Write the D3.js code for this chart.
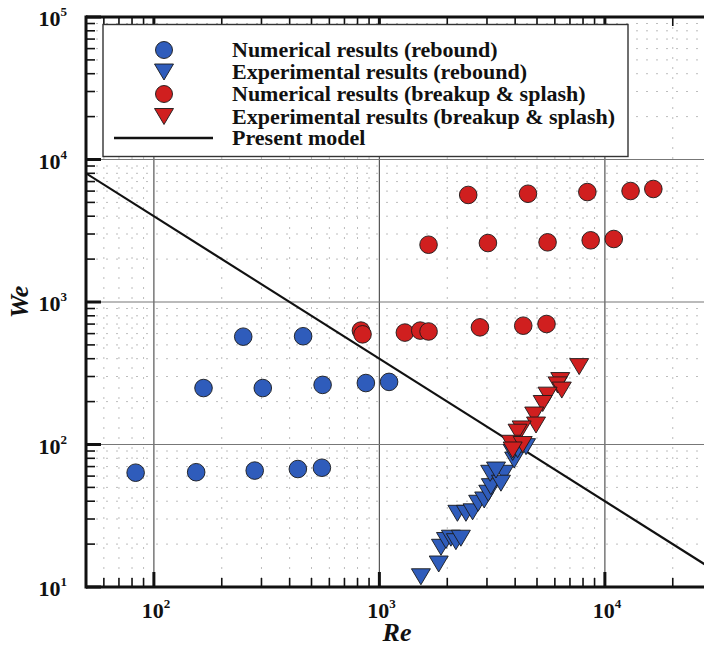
<!DOCTYPE html>
<html>
<head>
<meta charset="utf-8">
<script src="https://cdn.jsdelivr.net/npm/d3@7"></script>
<style>
  html, body { margin: 0; padding: 0; background: #fff; }
  svg { display: block; }
  text { font-family: "Liberation Serif", "Times New Roman", serif; font-weight: bold; fill: #111; }
</style>
</head>
<body>
<svg id="chart" width="704" height="647"></svg>
<script>
// Numerical results (rebound)
const numReboundRe = [83, 154, 280, 435, 556, 166, 304, 560, 871, 1104, 249, 459];
const numReboundWe = [63.4, 63.9, 65.6, 67.3, 68.7, 249, 249, 262, 270, 275, 571, 575];

// Experimental results (rebound)
const expReboundRe = [1528, 1833, 1876, 1974, 2076, 2184, 2298, 2218, 2420, 2590, 2742, 2916,
                      3040, 3121, 3100, 3575, 3460, 3290, 3960, 4470, 3900, 4100];
const expReboundWe = [11.8, 14.5, 19.0, 21.2, 22.0, 20.8, 22.0, 32.9, 32.9, 33.7, 38.7, 40.8,
                      45.5, 50.6, 62.8, 62.8, 53.5, 66.2, 77.8, 96.6, 88, 92];

// Numerical results (breakup & splash)
const numSplashRe = [2477, 4560, 8360, 13000, 16400,
                     1652, 3029, 5570, 8650, 10950,
                     828, 842, 1297, 1518, 1652, 2792, 4345, 5510];
const numSplashWe = [5640, 5750, 5910, 6010, 6210,
                     2523, 2593, 2623, 2710, 2768,
                     630, 593, 610, 630, 621, 664, 682, 701];

// Experimental results (breakup & splash)
const expSplashRe = [7690, 6340, 6170, 6440, 5570, 5300, 4860, 4950, 4275, 4100, 3830, 4320, 3900];
const expSplashWe = [352, 281, 262, 241, 222, 194, 161, 137, 128.6, 122, 102, 100, 91.5];

// Present model: We = 4e5 / Re
const modelRe = [50, 30000];
const modelWe = [8000, 13.33];

const xDecades = [100, 1000, 10000];
const yDecades = [10, 100, 1000, 10000, 100000];
const legendLabels = [
  "Numerical results (rebound)",
  "Experimental results (rebound)",
  "Numerical results (breakup & splash)",
  "Experimental results (breakup & splash)",
  "Present model"
];

const BLUE = "#2f5cbb", RED = "#d01f1f";

const svg = d3.select("#chart");
const pL = 86, pB = 587, pT = 17;
const x = d3.scaleLog().domain([50, 30000]).range([pL, pL + 225.5 * Math.log10(600)]);
const y = d3.scaleLog().domain([10, 100000]).range([pB, pT]);
const pR = x.range()[1];

svg.append("defs").append("clipPath").attr("id", "plotClip")
  .append("rect").attr("x", pL).attr("y", pT).attr("width", pR - pL).attr("height", pB - pT);

// minor values (2..9 within each decade) inside the domain
function minors(lo, hi) {
  const out = [];
  for (let p = Math.floor(Math.log10(lo)); p <= Math.ceil(Math.log10(hi)); p++) {
    for (let m = 2; m <= 9; m++) {
      const v = m * Math.pow(10, p);
      if (v > lo && v < hi) out.push(v);
    }
  }
  return out;
}
const xMinor = minors(50, 30000);
const yMinor = minors(10, 100000);

const grid = svg.append("g").attr("clip-path", "url(#plotClip)");
// minor dotted grid
grid.selectAll(".gxm").data(xMinor).join("line")
  .attr("x1", d => x(d)).attr("x2", d => x(d)).attr("y1", pT).attr("y2", pB)
  .attr("stroke", "#bdbdbd").attr("stroke-width", 1).attr("stroke-dasharray", "2,8");
grid.selectAll(".gym").data(yMinor).join("line")
  .attr("y1", d => y(d)).attr("y2", d => y(d)).attr("x1", pL).attr("x2", pR)
  .attr("stroke", "#bdbdbd").attr("stroke-width", 1).attr("stroke-dasharray", "2,8");
// major grid
grid.selectAll(".gx").data(xDecades).join("line")
  .attr("x1", d => x(d)).attr("x2", d => x(d)).attr("y1", pT).attr("y2", pB)
  .attr("stroke", "#555").attr("stroke-width", 1.2);
grid.selectAll(".gy").data(yDecades.slice(1, -1)).join("line")
  .attr("y1", d => y(d)).attr("y2", d => y(d)).attr("x1", pL).attr("x2", pR)
  .attr("stroke", "#777").attr("stroke-width", 1.2);

// axes with inward ticks
function tickLines(g, vals, len, w, orient) {
  g.selectAll(null).data(vals).join("line")
    .attr("x1", d => orient === "left" ? pL : x(d))
    .attr("x2", d => orient === "left" ? pL + len : x(d))
    .attr("y1", d => orient === "left" ? y(d) : (orient === "bottom" ? pB : pT))
    .attr("y2", d => orient === "left" ? y(d) : (orient === "bottom" ? pB - len : pT + len))
    .attr("stroke", "#111").attr("stroke-width", w);
}
const axes = svg.append("g");
tickLines(axes, yMinor, 9, 1.6, "left");
tickLines(axes, yDecades, 15, 3, "left");
tickLines(axes, xMinor, 9, 1.6, "bottom");
tickLines(axes, xDecades, 15, 3, "bottom");
tickLines(axes, xMinor, 9, 1.6, "top");
tickLines(axes, xDecades, 15, 3, "top");

axes.append("line").attr("x1", pL).attr("x2", pR).attr("y1", pB).attr("y2", pB)
  .attr("stroke", "#111").attr("stroke-width", 3);
axes.append("line").attr("x1", pL).attr("x2", pR).attr("y1", pT).attr("y2", pT)
  .attr("stroke", "#111").attr("stroke-width", 3);
axes.append("line").attr("x1", pL).attr("x2", pL).attr("y1", pT - 1.5).attr("y2", pB + 1.5)
  .attr("stroke", "#111").attr("stroke-width", 3);

// tick labels 10^n
function powLabel(sel) {
  sel.text("10").append("tspan").attr("dy", -10).attr("font-size", 13)
    .text(d => Math.round(Math.log10(d)));
}
svg.selectAll(".ylab").data(yDecades).join("text")
  .attr("x", 67).attr("y", d => y(d) + 9).attr("text-anchor", "end")
  .attr("font-size", 22).call(powLabel);
svg.selectAll(".xlab").data(xDecades).join("text")
  .attr("x", d => x(d) + 2).attr("y", pB + 31).attr("text-anchor", "middle")
  .attr("font-size", 22).call(powLabel);

// axis titles
svg.append("text").attr("x", 397).attr("y", 641).attr("text-anchor", "middle")
  .attr("font-size", 26).attr("font-style", "italic").text("Re");
svg.append("text").attr("transform", "translate(28,302) rotate(-90)").attr("text-anchor", "middle")
  .attr("font-size", 26).attr("font-style", "italic").text("We");

// marker shapes
const tri = (cx, cy, w, h) => `M${cx - w / 2},${cy - h / 2}L${cx + w / 2},${cy - h / 2}L${cx},${cy + h / 2}Z`;
const plot = svg.append("g").attr("clip-path", "url(#plotClip)");

// model line
plot.append("path")
  .datum(modelRe.map((r, i) => [r, modelWe[i]]))
  .attr("d", d3.line().x(d => x(d[0])).y(d => y(d[1])))
  .attr("fill", "none").attr("stroke", "#111").attr("stroke-width", 2.2);

function circles(re, we, color) {
  plot.append("g").selectAll("circle").data(re.map((r, i) => [r, we[i]])).join("circle")
    .attr("cx", d => x(d[0])).attr("cy", d => y(d[1])).attr("r", 8.8)
    .attr("fill", color).attr("stroke", "#1a1a1a").attr("stroke-width", 0.9);
}
function triangles(re, we, color) {
  plot.append("g").selectAll("path").data(re.map((r, i) => [r, we[i]])).join("path")
    .attr("d", d => tri(x(d[0]), y(d[1]), 19, 16))
    .attr("fill", color).attr("stroke", "#1a1a1a").attr("stroke-width", 0.9);
}
circles(numReboundRe, numReboundWe, BLUE);
triangles(expReboundRe, expReboundWe, BLUE);
circles(numSplashRe, numSplashWe, RED);
triangles(expSplashRe, expSplashWe, RED);

// legend
const lg = svg.append("g");
lg.append("rect").attr("x", 103).attr("y", 24.5).attr("width", 525).attr("height", 132)
  .attr("fill", "#fff").attr("stroke", "#333").attr("stroke-width", 1.4);
const rows = [50, 72, 94, 116.5, 138];
const kinds = [["c", BLUE], ["t", BLUE], ["c", RED], ["t", RED], ["l", "#111"]];
kinds.forEach((k, i) => {
  const cy = rows[i];
  if (k[0] === "c") {
    lg.append("circle").attr("cx", 164).attr("cy", cy).attr("r", 8.5)
      .attr("fill", k[1]).attr("stroke", "#1a1a1a").attr("stroke-width", 0.9);
  } else if (k[0] === "t") {
    lg.append("path").attr("d", tri(164, cy, 19, 16))
      .attr("fill", k[1]).attr("stroke", "#1a1a1a").attr("stroke-width", 0.9);
  } else {
    lg.append("line").attr("x1", 114).attr("x2", 213).attr("y1", cy).attr("y2", cy)
      .attr("stroke", "#111").attr("stroke-width", 2.6);
  }
  lg.append("text").attr("x", 232).attr("y", cy + 7).attr("font-size", 22).text(legendLabels[i]);
});
</script>
</body>
</html>
